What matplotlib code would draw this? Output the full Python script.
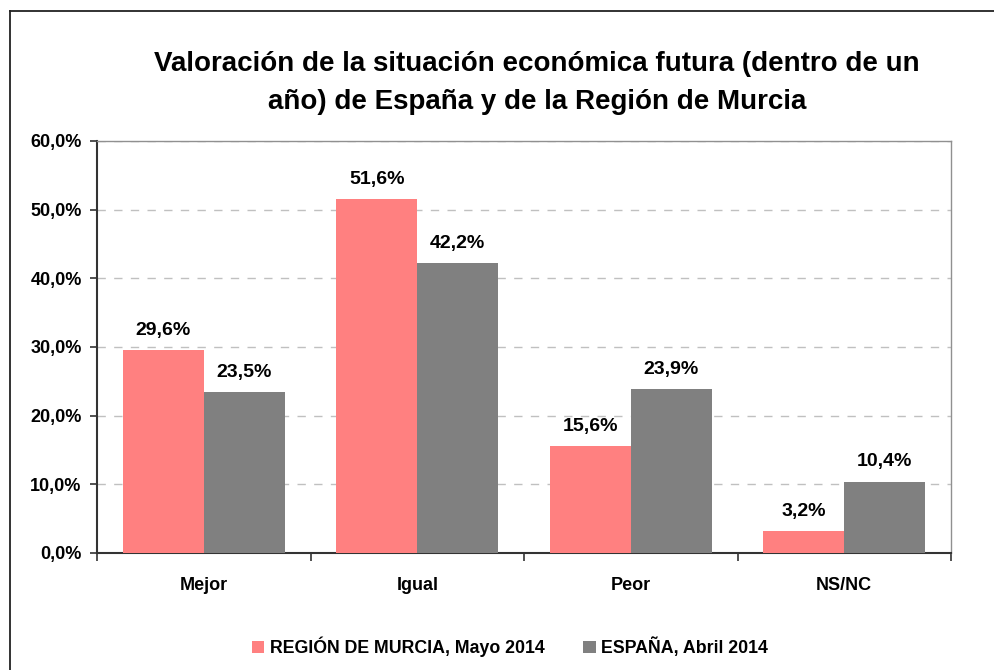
import matplotlib.pyplot as plt
import numpy as np
from matplotlib.lines import Line2D

categorias = ["Mejor", "Igual", "Peor", "NS/NC"]
murcia = [29.6, 51.6, 15.6, 3.2]
espana = [23.5, 42.2, 23.9, 10.4]
serie_murcia = "REGIÓN DE MURCIA, Mayo 2014"
serie_espana = "ESPAÑA, Abril 2014"
titulo = "Valoración de la situación económica futura (dentro de un\naño) de España y de la Región de Murcia"

plt.rcParams['font.family'] = ['Liberation Sans', 'DejaVu Sans']

fig = plt.figure(figsize=(9.95, 6.7), dpi=100)
ax = fig.add_axes([97/995, 1-553/670, (951-97)/995, (553-141)/670])

x = np.arange(len(categorias))
w = 0.38
rosa = "#FF8080"
gris = "#808080"
b1 = ax.bar(x - w/2, murcia, w, color=rosa, label=serie_murcia, zorder=3)
b2 = ax.bar(x + w/2, espana, w, color=gris, label=serie_espana, zorder=3)

def etiqueta(v):
    return f"{v:.1f}%".replace(".", ",")

for barras, vals in ((b1, murcia), (b2, espana)):
    for b, v in zip(barras, vals):
        ax.annotate(etiqueta(v), (b.get_x() + b.get_width()/2, v),
                    xytext=(0, 8), textcoords="offset points",
                    ha="center", va="bottom", fontsize=14, fontweight="bold")

ax.set_xlim(-0.5, len(categorias) - 0.5)
ax.set_ylim(0, 60)
ax.set_yticks(np.arange(0, 61, 10))
ax.set_yticklabels([etiqueta(t) for t in np.arange(0, 61, 10)], fontsize=13, fontweight="bold")
ax.yaxis.grid(True, linestyle=(0, (6, 6)), color="#C0C0C0", linewidth=1, zorder=0)
ax.tick_params(axis="y", direction="out", length=5, width=1.2, color="#333333", pad=6)

ax.set_xticks(x)
ax.set_xticklabels(categorias, fontsize=13, fontweight="bold")
ax.tick_params(axis="x", length=0, pad=17)
ax.set_xticks(np.arange(-0.5, len(categorias), 1), minor=True)
ax.tick_params(axis="x", which="minor", direction="out", length=6, width=1.2, color="#333333")

for s in ("left", "bottom"):
    ax.spines[s].set_color("#333333")
    ax.spines[s].set_linewidth(1.5)
for s in ("top", "right"):
    ax.spines[s].set_color("#909090")
    ax.spines[s].set_linewidth(1)

fig.text(537/995, 1 - 83/670, titulo, ha="center", va="center", fontsize=20,
         fontweight="bold", linespacing=1.6)

fig.legend(handles=[b1, b2], loc="center", bbox_to_anchor=(510/995, 1 - 647/670),
           ncol=2, frameon=False, prop={"weight": "bold", "size": 12.8},
           handlelength=0.7, handleheight=0.7, handletextpad=0.3, columnspacing=2.2)

fig.add_artist(Line2D([10/995, 10/995], [0, 1 - 11/670], transform=fig.transFigure,
                      color="#222222", linewidth=1.3))
fig.add_artist(Line2D([10/995, 1], [1 - 11/670, 1 - 11/670], transform=fig.transFigure,
                      color="#222222", linewidth=1.3))

fig.savefig("out.png", dpi=100)
